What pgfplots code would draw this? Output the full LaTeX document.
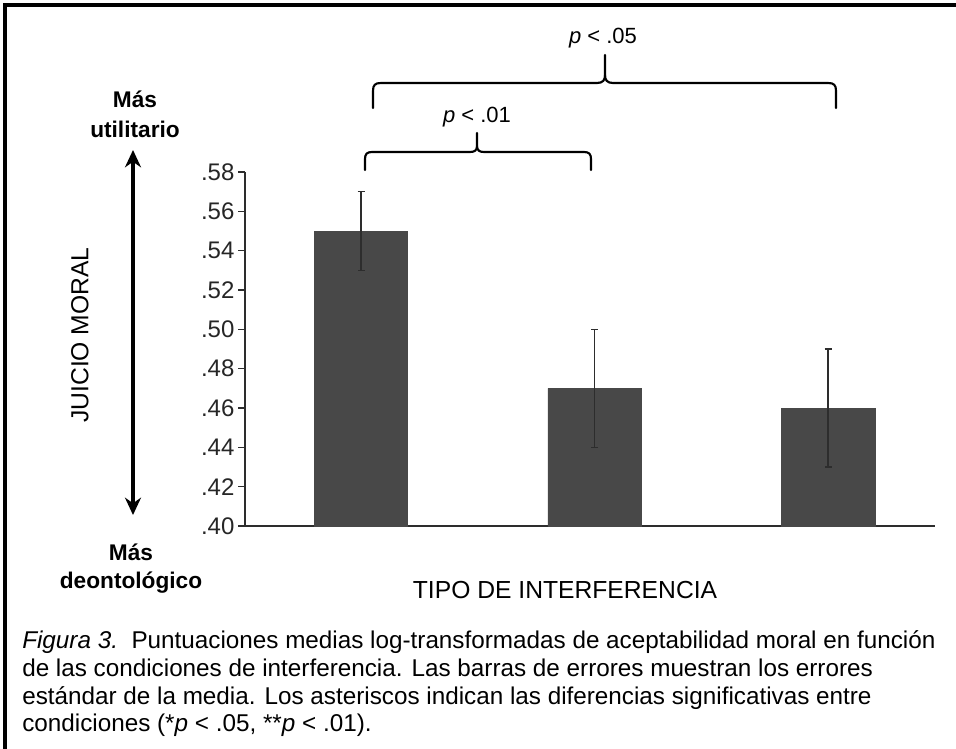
\documentclass[border=0pt]{standalone}
\usepackage{pgfplots}
\pgfplotsset{compat=1.18}
\usepackage{pgfplotstable}
\usepackage{fontspec}
\setmainfont{Liberation Sans}
\usetikzlibrary{arrows.meta}
\definecolor{barc}{RGB}{72,72,72}
\definecolor{axc}{RGB}{45,45,45}
\pgfplotstableread{
x y e
1 0.55 0.02
2 0.47 0.03
3 0.46 0.03
}\datatable
\begin{document}
\begin{tikzpicture}
\begin{scope}[x=0.75pt,y=-0.75pt]
\useasboundingbox (0,0) rectangle (956,749);
\draw[line width=2.6pt] (5,749) -- (5,5) -- (956,5);
\end{scope}
\begin{axis}[
  at={(183.75pt,-394.5pt)}, anchor=south west,
  scale only axis, width=517.5pt, height=265.5pt,
  xmin=0.503, xmax=3.458, ymin=0.40, ymax=0.58,
  axis x line*=bottom, axis y line*=left,
  axis line style={-, draw=axc, line width=0.9pt},
  xtick=\empty,
  ytick={0.40,0.42,0.44,0.46,0.48,0.50,0.52,0.54,0.56,0.58},
  yticklabels={.40,.42,.44,.46,.48,.50,.52,.54,.56,.58},
  tick align=outside, major tick length=5.25pt,
  ytick style={draw=axc, line width=0.9pt},
  yticklabel style={font=\fontsize{18}{21}\selectfont, text=black!85, inner sep=2.5pt},
  clip=true,
]
\addplot[ybar, bar width=0.4, fill=barc, draw=barc,
  error bars/.cd, y dir=both, y explicit,
  error bar style={draw=axc, line width=1pt},
  error mark options={rotate=90, mark size=2.6pt, line width=1pt, draw=axc}]
  table[x=x, y=y, y error=e] {\datatable};
\end{axis}
\begin{scope}[x=0.75pt,y=-0.75pt]
% brackets
\draw[line width=1.6pt, line cap=round, line join=round]
  (373,108) -- (373,91) .. controls (373,85) and (375,83) .. (381,83) -- (597,83)
  .. controls (603,83) and (605,80) .. (605,75) -- (605,55);
\draw[line width=1.6pt, line cap=round, line join=round]
  (605,75) .. controls (605,80) and (607,83) .. (613,83) -- (828,83)
  .. controls (834,83) and (836,85) .. (836,91) -- (836,108);
\draw[line width=1.6pt, line cap=round, line join=round]
  (365,170) -- (365,159) .. controls (365,154) and (367,152) .. (372,152) -- (470,152)
  .. controls (475,152) and (477,150) .. (477,146) -- (477,133);
\draw[line width=1.6pt, line cap=round, line join=round]
  (477,146) .. controls (477,150) and (479,152) .. (484,152) -- (584,152)
  .. controls (589,152) and (591,154) .. (591,159) -- (591,170);
\node[anchor=base, font=\fontsize{16.5}{19}\selectfont, inner sep=0pt] at (603,44) {\textit{p} < .05};
\node[anchor=base, font=\fontsize{16.5}{19}\selectfont, inner sep=0pt] at (477,122) {\textit{p} < .01};
% left annotations
\draw[line width=3pt, {Stealth[length=13pt,width=12pt]}-{Stealth[length=13pt,width=12pt]}] (133,150) -- (133,515);
\node[rotate=90, font=\fontsize{18.5}{22}\selectfont, inner sep=0pt] at (80,335) {JUICIO MORAL};
\node[anchor=base, font=\bfseries\fontsize{17}{20}\selectfont, inner sep=0pt] at (135,108) {Más};
\node[anchor=base, font=\bfseries\fontsize{17}{20}\selectfont, inner sep=0pt] at (135,137) {utilitario};
\node[anchor=base, font=\bfseries\fontsize{17}{20}\selectfont, inner sep=0pt] at (131,560) {Más};
\node[anchor=base, font=\bfseries\fontsize{17}{20}\selectfont, inner sep=0pt] at (131,588) {deontológico};
% x label
\node[anchor=base, font=\fontsize{18.5}{22}\selectfont, inner sep=0pt] at (565,598) {TIPO DE INTERFERENCIA};
% caption
\begin{scope}[every node/.style={anchor=base west, inner sep=0pt, font=\fontsize{18.2}{22}\selectfont}]
\node at (22,648) {\textit{Figura 3.}\ \ Puntuaciones medias log-transformadas de aceptabilidad moral en función};
\node at (22,676) {de las condiciones de interferencia. Las barras de errores muestran los errores};
\node at (22,704) {estándar de la media. Los asteriscos indican las diferencias significativas entre};
\node at (22,731) {condiciones (*\textit{p} < .05, **\textit{p} < .01).};
\end{scope}
\end{scope}
\end{tikzpicture}
\end{document}
